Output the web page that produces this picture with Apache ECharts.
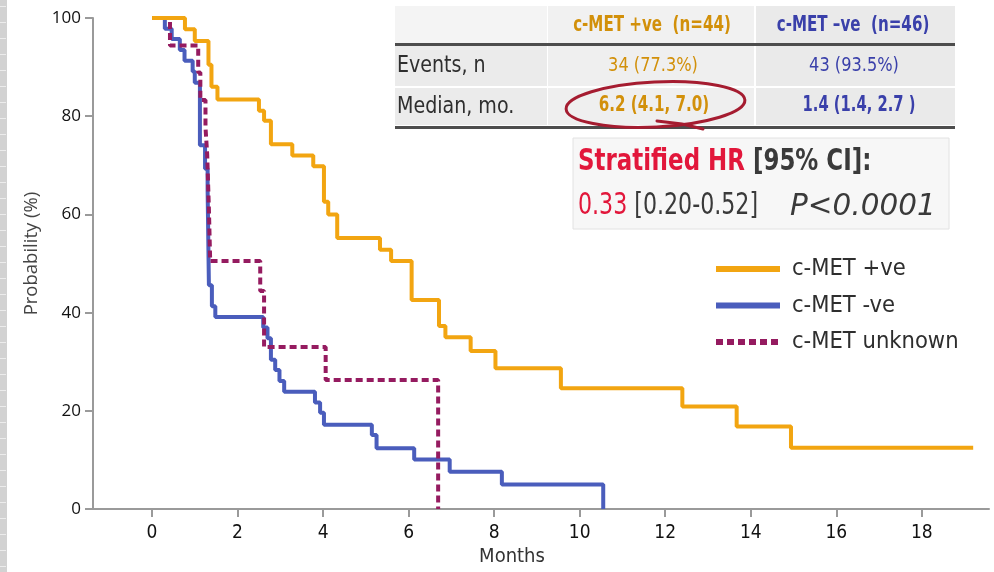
<!DOCTYPE html>
<html><head><meta charset="utf-8">
<script src="https://cdn.jsdelivr.net/npm/echarts@6/dist/echarts.min.js"></script>
<style>html,body{margin:0;padding:0;background:#fff}#c{width:994px;height:572px}</style>
</head><body><div id="c"></div>
<script>
// ---- data ----
const xTicks = [0, 2, 4, 6, 8, 10, 12, 14, 16, 18];
const seriesNames = ['c-MET +ve', 'c-MET -ve', 'c-MET unknown'];
const posT = [0, 0.77, 1.00, 1.32, 1.39, 1.53, 2.50, 2.62, 2.78, 3.28, 3.77, 4.02, 4.12, 4.33, 5.33, 5.59, 6.07, 6.71, 6.86, 7.45, 8.03, 9.56, 12.40, 13.67, 14.94, 19.20];
const posS = [100, 97.7, 95.3, 90.5, 86.0, 83.4, 81.1, 79.1, 74.3, 72.0, 69.8, 62.6, 60.0, 55.2, 52.8, 50.5, 42.6, 37.3, 35.0, 32.2, 28.7, 24.6, 20.9, 16.8, 12.5, 12.5];
const negT = [0, 0.30, 0.46, 0.65, 0.76, 0.95, 1.00, 1.12, 1.24, 1.30, 1.33, 1.40, 1.48, 2.60, 2.70, 2.78, 2.88, 2.98, 3.09, 3.81, 3.93, 4.02, 5.14, 5.25, 6.13, 6.96, 8.18, 10.55];
const negS = [100, 97.8, 95.7, 93.5, 91.3, 89.1, 86.8, 74.1, 69.3, 65.0, 45.6, 41.3, 39.1, 37.0, 34.8, 30.4, 28.3, 26.1, 23.9, 21.7, 19.6, 17.2, 15.1, 12.4, 10.1, 7.6, 5.0, 0];
const unkT = [0, 0.42, 1.08, 1.13, 1.25, 1.29, 1.33, 1.36, 2.53, 2.62, 4.06, 6.69];
const unkS = [100, 94.4, 88.9, 83.3, 77.8, 72.2, 61.1, 50.5, 44.4, 33.0, 26.3, 0];
const tableHeader = ['c-MET +ve  (n=44)', 'c-MET \u2013ve  (n=46)'];
const tableRowLabels = ['Events, n', 'Median, mo.'];
const eventsVals = ['34 (77.3%)', '43 (93.5%)'];
const medianVals = ['6.2 (4.1, 7.0)', '1.4 (1.4, 2.7 )'];
const hrTitle = ['Stratified HR', '[95% CI]:'];
const hrValues = ['0.33', '[0.20-0.52]', 'P<0.0001'];

// ---- styles ----
const NARROW = "'DejaVu Sans Condensed','Liberation Sans Narrow',sans-serif";
const C_POS = '#F2A511', C_NEG = '#4A5DBC', C_UNK = '#951B60';
const T_POS = '#D2900A', T_NEG = '#3A40AA';
const RED = '#E2173B', GRAY = '#3A3A3A', MARK = '#A51C30';

function pairs(t, s) { return t.map((v, i) => [v, s[i]]); }

const chart = echarts.init(document.getElementById('c'), null, {renderer: 'canvas'});

const g = [];
// left ruler strip
g.push({type: 'rect', shape: {x: 0, y: 0, width: 7, height: 572}, style: {fill: '#D2D2D2'}, silent: true});
for (let yy = 6; yy < 572; yy += 16) {
  g.push({type: 'rect', shape: {x: 0, y: yy, width: 6, height: 1}, style: {fill: '#ECECEC'}, silent: true});
}
// table backgrounds
const colX = [395, 548, 756, 955];
const rowY = [6, 46, 88, 127];
g.push({type: 'rect', shape: {x: colX[0], y: rowY[0], width: colX[1] - colX[0] - 1, height: 37}, style: {fill: '#F4F4F4'}});
g.push({type: 'rect', shape: {x: colX[1], y: rowY[0], width: colX[2] - colX[1] - 2, height: 37}, style: {fill: '#F1F1F1'}});
g.push({type: 'rect', shape: {x: colX[2], y: rowY[0], width: colX[3] - colX[2], height: 37}, style: {fill: '#EAEAEA'}});
for (let r = 0; r < 2; r++) {
  g.push({type: 'rect', shape: {x: colX[0], y: rowY[r + 1], width: colX[1] - colX[0] - 1, height: rowY[r + 2] - rowY[r + 1] - 2}, style: {fill: '#EBEBEB'}});
  g.push({type: 'rect', shape: {x: colX[1], y: rowY[r + 1], width: colX[2] - colX[1] - 2, height: rowY[r + 2] - rowY[r + 1] - 2}, style: {fill: '#EFEFEF'}});
  g.push({type: 'rect', shape: {x: colX[2], y: rowY[r + 1], width: colX[3] - colX[2], height: rowY[r + 2] - rowY[r + 1] - 2}, style: {fill: '#EAEAEA'}});
}
g.push({type: 'rect', shape: {x: colX[0], y: 43, width: colX[3] - colX[0], height: 3}, style: {fill: '#4D4D4D'}});
g.push({type: 'rect', shape: {x: colX[0], y: 126, width: colX[3] - colX[0], height: 3}, style: {fill: '#4D4D4D'}});
// header texts
g.push({type: 'text', x: 652, y: 26, scaleX: 0.8, style: {text: tableHeader[0], fill: T_POS, fontSize: 21, fontWeight: 'bold', fontFamily: NARROW, align: 'center', verticalAlign: 'middle'}});
g.push({type: 'text', x: 853, y: 26, scaleX: 0.8, style: {text: tableHeader[1], fill: T_NEG, fontSize: 21, fontWeight: 'bold', fontFamily: NARROW, align: 'center', verticalAlign: 'middle'}});
// row labels
g.push({type: 'text', x: 397, y: 66, scaleX: 0.92, style: {text: tableRowLabels[0], fill: '#2E2E2E', fontSize: 23, fontFamily: NARROW, align: 'left', verticalAlign: 'middle'}});
g.push({type: 'text', x: 397, y: 107, scaleX: 0.92, style: {text: tableRowLabels[1], fill: '#2E2E2E', fontSize: 23, fontFamily: NARROW, align: 'left', verticalAlign: 'middle'}});
g.push({type: 'text', x: 653, y: 66, scaleX: 0.9, style: {text: eventsVals[0], fill: T_POS, fontSize: 20, fontFamily: NARROW, align: 'center', verticalAlign: 'middle'}});
g.push({type: 'text', x: 854, y: 66, scaleX: 0.9, style: {text: eventsVals[1], fill: T_NEG, fontSize: 20, fontFamily: NARROW, align: 'center', verticalAlign: 'middle'}});
g.push({type: 'text', x: 654, y: 106, scaleX: 0.8, style: {text: medianVals[0], fill: T_POS, fontSize: 21, fontWeight: 'bold', fontFamily: NARROW, align: 'center', verticalAlign: 'middle'}});
g.push({type: 'text', x: 859, y: 106, scaleX: 0.78, style: {text: medianVals[1], fill: T_NEG, fontSize: 21, fontWeight: 'bold', fontFamily: NARROW, align: 'center', verticalAlign: 'middle'}});
// hand-drawn ellipse around the +ve median
g.push({type: 'ellipse', x: 655.5, y: 104.5, rotation: 0.05, shape: {cx: 0, cy: 0, rx: 89.5, ry: 22.5}, style: {fill: 'none', stroke: MARK, lineWidth: 3}});
g.push({type: 'polyline', shape: {points: [[657, 121], [682, 124], [703, 129]]}, style: {fill: 'none', stroke: MARK, lineWidth: 3, lineCap: 'round'}});
// HR box
g.push({type: 'rect', shape: {x: 573, y: 138, width: 376, height: 91}, style: {fill: '#F7F7F7', stroke: '#E2E2E2', lineWidth: 1}});
g.push({type: 'text', x: 578, y: 162, scaleX: 0.85, style: {
  text: '{r|' + hrTitle[0] + ' }{g|' + hrTitle[1] + '}',
  verticalAlign: 'middle', align: 'left',
  rich: {
    r: {fill: RED, fontSize: 30, fontWeight: 'bold', fontFamily: NARROW},
    g: {fill: GRAY, fontSize: 30, fontWeight: 'bold', fontFamily: NARROW}
  }}});
g.push({type: 'text', x: 578, y: 206, scaleX: 0.82, style: {
  text: '{r|' + hrValues[0] + ' }{g|' + hrValues[1] + '}',
  verticalAlign: 'middle', align: 'left',
  rich: {
    r: {fill: RED, fontSize: 30, fontFamily: NARROW},
    g: {fill: GRAY, fontSize: 30, fontFamily: NARROW}
  }}});
g.push({type: 'text', x: 790, y: 207, style: {text: hrValues[2], fill: GRAY, fontSize: 29.5, fontStyle: 'italic', fontFamily: "'DejaVu Sans',sans-serif", align: 'left', verticalAlign: 'middle'}});

const option = {
  animation: false,
  backgroundColor: '#fff',
  grid: {left: 93, right: 5, top: 18, bottom: 57, containLabel: false},
  legend: {
    orient: 'vertical', left: 708, top: 252,
    itemWidth: 64, itemHeight: 14, itemGap: 12.5,
    data: seriesNames,
    itemStyle: {opacity: 0},
    lineStyle: {width: 6},
    textStyle: {fontSize: 23.5, fontFamily: NARROW, color: '#2E2E2E', padding: [0, 0, 0, 7]}
  },
  xAxis: {
    type: 'value', min: -1.38, max: 19.57,
    name: 'Months', nameLocation: 'middle', nameGap: 36,
    nameTextStyle: {fontSize: 20, fontFamily: NARROW, color: '#333', padding: [0, 58, 0, 0]},
    splitLine: {show: false},
    axisLine: {show: true, onZero: false, lineStyle: {color: '#9A9A9A', width: 2}},
    axisTick: {show: true, length: 8, lineStyle: {color: '#9A9A9A', width: 2}, customValues: xTicks},
    axisLabel: {fontSize: 19, fontFamily: NARROW, color: '#111', margin: 14, customValues: xTicks}
  },
  yAxis: {
    type: 'value', min: 0, max: 100, interval: 20,
    name: 'Probability (%)', nameLocation: 'middle', nameGap: 52,
    nameTextStyle: {fontSize: 18.5, fontFamily: "'Open Sans',sans-serif", color: '#444', padding: [0, 0, 0, 20]},
    splitLine: {show: false},
    axisLine: {show: true, onZero: false, lineStyle: {color: '#9A9A9A', width: 2}},
    axisTick: {show: true, length: 8, lineStyle: {color: '#9A9A9A', width: 2}},
    axisLabel: {fontSize: 17, fontFamily: "'Open Sans',sans-serif", color: '#111', margin: 12}
  },
  series: [
    {name: seriesNames[0], type: 'line', step: 'end', symbol: 'none', data: pairs(posT, posS),
     lineStyle: {color: C_POS, width: 4}, itemStyle: {color: C_POS}, z: 4},
    {name: seriesNames[1], type: 'line', step: 'end', symbol: 'none', data: pairs(negT, negS),
     lineStyle: {color: C_NEG, width: 4}, itemStyle: {color: C_NEG}, z: 2},
    {name: seriesNames[2], type: 'line', step: 'end', symbol: 'none', data: pairs(unkT, unkS),
     lineStyle: {color: C_UNK, width: 4, type: [7, 4]}, itemStyle: {color: C_UNK}, z: 3}
  ],
  graphic: g
};
chart.setOption(option);
</script>
</body></html>
